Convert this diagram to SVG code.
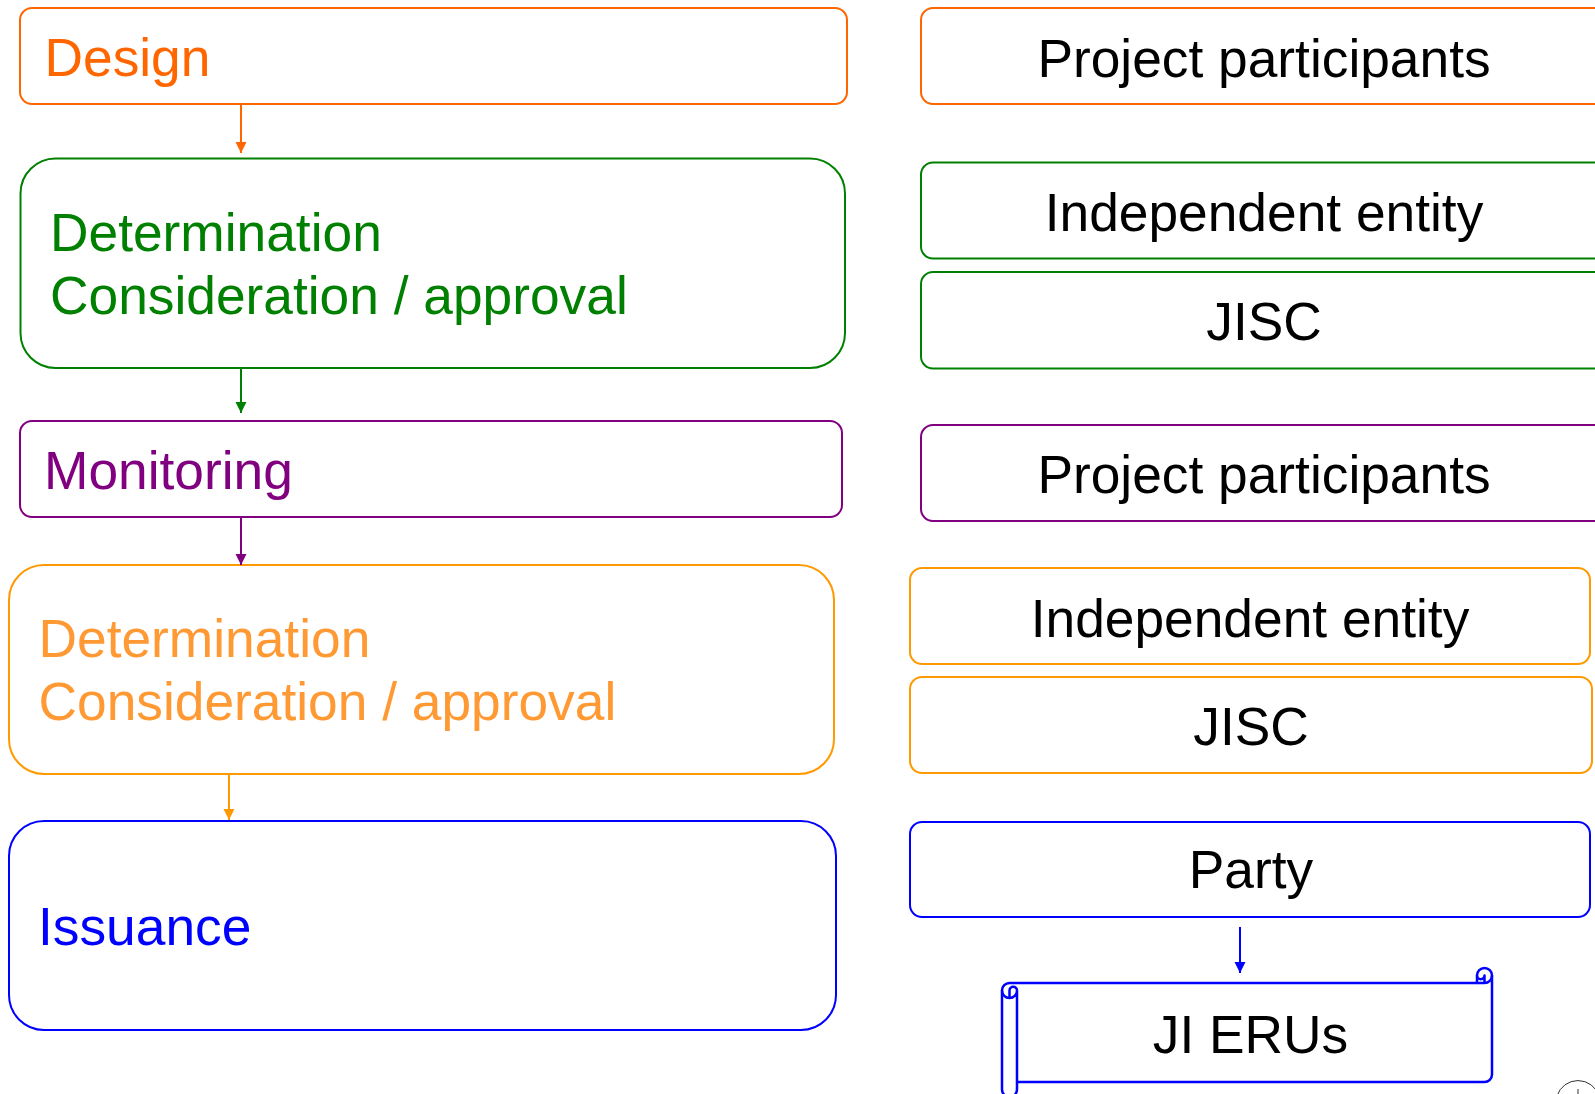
<svg xmlns="http://www.w3.org/2000/svg" width="1595" height="1094" viewBox="0 0 1595 1094">
<style>
text{font-family:"Liberation Sans",Arial,sans-serif;font-size:53.3px}
.box{fill:#fff;stroke-width:2}
.c{text-anchor:middle;fill:#000}
.conn{stroke-width:2;fill:none}
</style>
<defs>
<marker id="aO" markerUnits="userSpaceOnUse" markerWidth="12" markerHeight="12" refX="11" refY="5.5" orient="auto"><path d="M0,0 L11,5.5 L0,11 z" fill="#FF6600"/></marker>
<marker id="aG" markerUnits="userSpaceOnUse" markerWidth="12" markerHeight="12" refX="11" refY="5.5" orient="auto"><path d="M0,0 L11,5.5 L0,11 z" fill="#008000"/></marker>
<marker id="aP" markerUnits="userSpaceOnUse" markerWidth="12" markerHeight="12" refX="11" refY="5.5" orient="auto"><path d="M0,0 L11,5.5 L0,11 z" fill="#800080"/></marker>
<marker id="aY" markerUnits="userSpaceOnUse" markerWidth="12" markerHeight="12" refX="11" refY="5.5" orient="auto"><path d="M0,0 L11,5.5 L0,11 z" fill="#FF9900"/></marker>
<marker id="aB" markerUnits="userSpaceOnUse" markerWidth="12" markerHeight="12" refX="11" refY="5.5" orient="auto"><path d="M0,0 L11,5.5 L0,11 z" fill="#0000FF"/></marker>
</defs>
<rect x="0" y="0" width="1595" height="1094" fill="#fff"/>

<g id="design">
<rect class="box" x="20" y="8" width="827" height="96" rx="12" stroke="#FF6600"/>
<text x="44.5" y="76" fill="#FF6600">Design</text>
</g>
<g id="determination1">
<rect class="box" x="20.5" y="158.5" width="824.5" height="209.5" rx="35" stroke="#008000"/>
<text x="50" y="251" fill="#008000">Determination</text>
<text x="50" y="314" fill="#008000">Consideration / approval</text>
</g>
<g id="monitoring">
<rect class="box" x="20" y="421" width="822" height="96" rx="12" stroke="#800080"/>
<text x="44" y="489" fill="#800080">Monitoring</text>
</g>
<g id="determination2">
<rect class="box" x="9" y="565" width="825" height="209" rx="35" stroke="#FF9900"/>
<text x="38.5" y="657" fill="#FF9933">Determination</text>
<text x="38.5" y="720" fill="#FF9933">Consideration / approval</text>
</g>
<g id="issuance">
<rect class="box" x="9" y="821" width="827" height="209" rx="35" stroke="#0000FF"/>
<text x="38" y="945" fill="#0000FF">Issuance</text>
</g>

<g id="pp1">
<rect class="box" x="921" y="8" width="685" height="96" rx="12" stroke="#FF6600"/>
<text class="c" x="1264" y="76.5">Project participants</text>
</g>
<g id="ie1">
<rect class="box" x="921" y="162.5" width="685" height="96" rx="12" stroke="#008000"/>
<text class="c" x="1264" y="231">Independent entity</text>
</g>
<g id="jisc1">
<rect class="box" x="921" y="272" width="685" height="96.5" rx="12" stroke="#008000"/>
<text class="c" x="1264" y="340">JISC</text>
</g>
<g id="pp2">
<rect class="box" x="921" y="425" width="685" height="96" rx="12" stroke="#800080"/>
<text class="c" x="1264" y="492.5">Project participants</text>
</g>
<g id="ie2">
<rect class="box" x="910" y="568" width="680" height="96" rx="12" stroke="#FF9900"/>
<text class="c" x="1250" y="637">Independent entity</text>
</g>
<g id="jisc2">
<rect class="box" x="910" y="677" width="682" height="96" rx="12" stroke="#FF9900"/>
<text class="c" x="1251" y="745">JISC</text>
</g>
<g id="party">
<rect class="box" x="910" y="822" width="680" height="95" rx="12" stroke="#0000FF"/>
<text class="c" x="1251" y="888">Party</text>
</g>
<g id="jieru">
<path d="M1002,990.5 A7.5,7.5 0 0 1 1009.5,983 L1477,983 L1477,975.5 A7.5,7.5 0 0 1 1492,975.5 L1492,1074.5 A7.5,7.5 0 0 1 1484.5,1082 L1017,1082 L1017,1089.5 A7.5,7.5 0 0 1 1002,1089.5 Z" fill="#fff" stroke="#0000FF" stroke-width="2.5" stroke-linejoin="round"/>
<path d="M1477,983 L1484.5,983 A7.5,7.5 0 0 0 1492,975.5 M1484.5,983 L1484.5,975.5 A3.75,3.75 0 0 1 1477,975.5 M1009.5,998 L1009.5,990.5 A3.75,3.75 0 0 1 1017,990.5 A7.5,7.5 0 0 1 1002,990.5 M1017,990.5 L1017,1082" fill="none" stroke="#0000FF" stroke-width="2.5" stroke-linejoin="round"/>
<text class="c" x="1250.5" y="1053">JI ERUs</text>
</g>

<g id="connectors">
<line class="conn" x1="241" y1="104" x2="241" y2="153" stroke="#FF6600" marker-end="url(#aO)"/>
<line class="conn" x1="241" y1="368" x2="241" y2="413" stroke="#008000" marker-end="url(#aG)"/>
<line class="conn" x1="241" y1="517" x2="241" y2="565" stroke="#800080" marker-end="url(#aP)"/>
<line class="conn" x1="229" y1="774" x2="229" y2="820" stroke="#FF9900" marker-end="url(#aY)"/>
<line class="conn" x1="1240" y1="927" x2="1240" y2="973" stroke="#0000FF" marker-end="url(#aB)"/>
</g>

<path d="M1557,1096 A22,22 0 0 1 1599,1096 M1578,1089 L1578,1094" fill="none" stroke="#333" stroke-width="1"/>
</svg>
